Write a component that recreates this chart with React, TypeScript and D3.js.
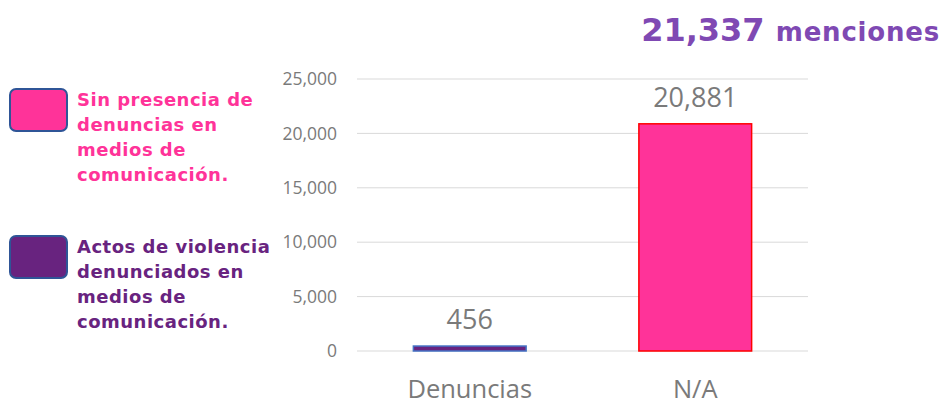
import * as React from "react";
import * as d3 from "d3";

const categories: string[] = ["Denuncias", "N/A"];
const values: number[] = [456, 20881];
const barFills: string[] = ["#68237f", "#ff3399"];
const barStrokes: string[] = ["#4472c4", "#ff0000"];
const yTicks: number[] = [0, 5000, 10000, 15000, 20000, 25000];
const totalLabel: string = "21,337";
const totalSuffix: string = "menciones";

const legendItems = [
  { lines: ["Sin presencia de", "denuncias en", "medios de", "comunicación."], fill: "#ff3399", text: "#ff3399" },
  { lines: ["Actos de violencia", "denunciados en", "medios de", "comunicación."], fill: "#68237f", text: "#68237f" },
];

const W = 948;
const H = 407;
const margin = { top: 79, right: 140, bottom: 56, left: 357 };

export default function App(): JSX.Element {
  const ref = React.useRef<SVGSVGElement>(null);

  React.useEffect(() => {
    const svg = d3.select(ref.current);
    svg.selectAll("*").remove();

    const innerW = W - margin.left - margin.right;
    const innerH = H - margin.top - margin.bottom;

    const x = d3.scaleBand<string>().domain(categories).range([0, innerW]).paddingInner(0.5).paddingOuter(0.25);
    const y = d3.scaleLinear().domain([0, 25000]).range([innerH, 0]);

    const g = svg.append("g").attr("transform", `translate(${margin.left},${margin.top})`);

    // grid lines
    g.selectAll("line.grid")
      .data(yTicks)
      .enter()
      .append("line")
      .attr("x1", 0)
      .attr("x2", innerW)
      .attr("y1", (d) => y(d))
      .attr("y2", (d) => y(d))
      .attr("stroke", "#d9d9d9")
      .attr("stroke-width", 1);

    // tick labels
    const fmt = d3.format(",");
    g.selectAll("text.tick")
      .data(yTicks)
      .enter()
      .append("text")
      .attr("x", -20)
      .attr("y", (d) => y(d))
      .attr("dy", "0.35em")
      .attr("text-anchor", "end")
      .attr("font-family", "'Open Sans', sans-serif")
      .attr("font-size", 17.5)
      .attr("fill", "#7a7a7a")
      .text((d) => fmt(d));

    // bars
    g.selectAll("rect.bar")
      .data(values)
      .enter()
      .append("rect")
      .attr("x", (_d, i) => x(categories[i]) as number)
      .attr("y", (d) => y(d))
      .attr("width", x.bandwidth())
      .attr("height", (d) => innerH - y(d))
      .attr("fill", (_d, i) => barFills[i])
      .attr("stroke", (_d, i) => barStrokes[i])
      .attr("stroke-width", 1.5);

    // value labels
    g.selectAll("text.val")
      .data(values)
      .enter()
      .append("text")
      .attr("x", (_d, i) => (x(categories[i]) as number) + x.bandwidth() / 2)
      .attr("y", (d) => y(d) - 17)
      .attr("text-anchor", "middle")
      .attr("font-family", "'Open Sans', sans-serif")
      .attr("font-size", 27)
      .attr("fill", "#7a7a7a")
      .text((d) => fmt(d));

    // category labels
    g.selectAll("text.cat")
      .data(categories)
      .enter()
      .append("text")
      .attr("x", (d) => (x(d) as number) + x.bandwidth() / 2)
      .attr("y", innerH + 47)
      .attr("text-anchor", "middle")
      .attr("font-family", "'Open Sans', sans-serif")
      .attr("font-size", 25.5)
      .attr("fill", "#7a7a7a")
      .text((d) => d);

    // total title
    const title = svg.append("text")
      .attr("x", 940)
      .attr("y", 41)
      .attr("text-anchor", "end")
      .attr("font-family", "'DejaVu Sans', sans-serif")
      .attr("font-weight", "bold")
      .attr("fill", "#7f49b3");
    title.append("tspan").attr("font-size", 32).text(totalLabel + " ");
    title.append("tspan").attr("font-size", 26).attr("letter-spacing", 0.8).text(totalSuffix);

    // legend
    const legendY = [88, 235];
    legendItems.forEach((item, i) => {
      const lg = svg.append("g").attr("transform", `translate(9,${legendY[i]})`);
      lg.append("rect")
        .attr("x", 1)
        .attr("y", 1)
        .attr("width", 57)
        .attr("height", 42)
        .attr("rx", 6)
        .attr("fill", item.fill)
        .attr("stroke", "#2f5597")
        .attr("stroke-width", 2);
      const t = lg.append("text")
        .attr("font-family", "'DejaVu Sans', sans-serif")
        .attr("font-weight", "bold")
        .attr("font-size", 18)
        .attr("letter-spacing", 0.5)
        .attr("fill", item.text);
      item.lines.forEach((line, j) => {
        t.append("tspan")
          .attr("x", 68)
          .attr("y", 12 + j * 25)
          .attr("dy", "0.35em")
          .text(line);
      });
    });
  }, []);

  return (
    <svg ref={ref} width={W} height={H} style={{ position: "absolute", left: 0, top: 0, background: "#fff" }} />
  );
}
